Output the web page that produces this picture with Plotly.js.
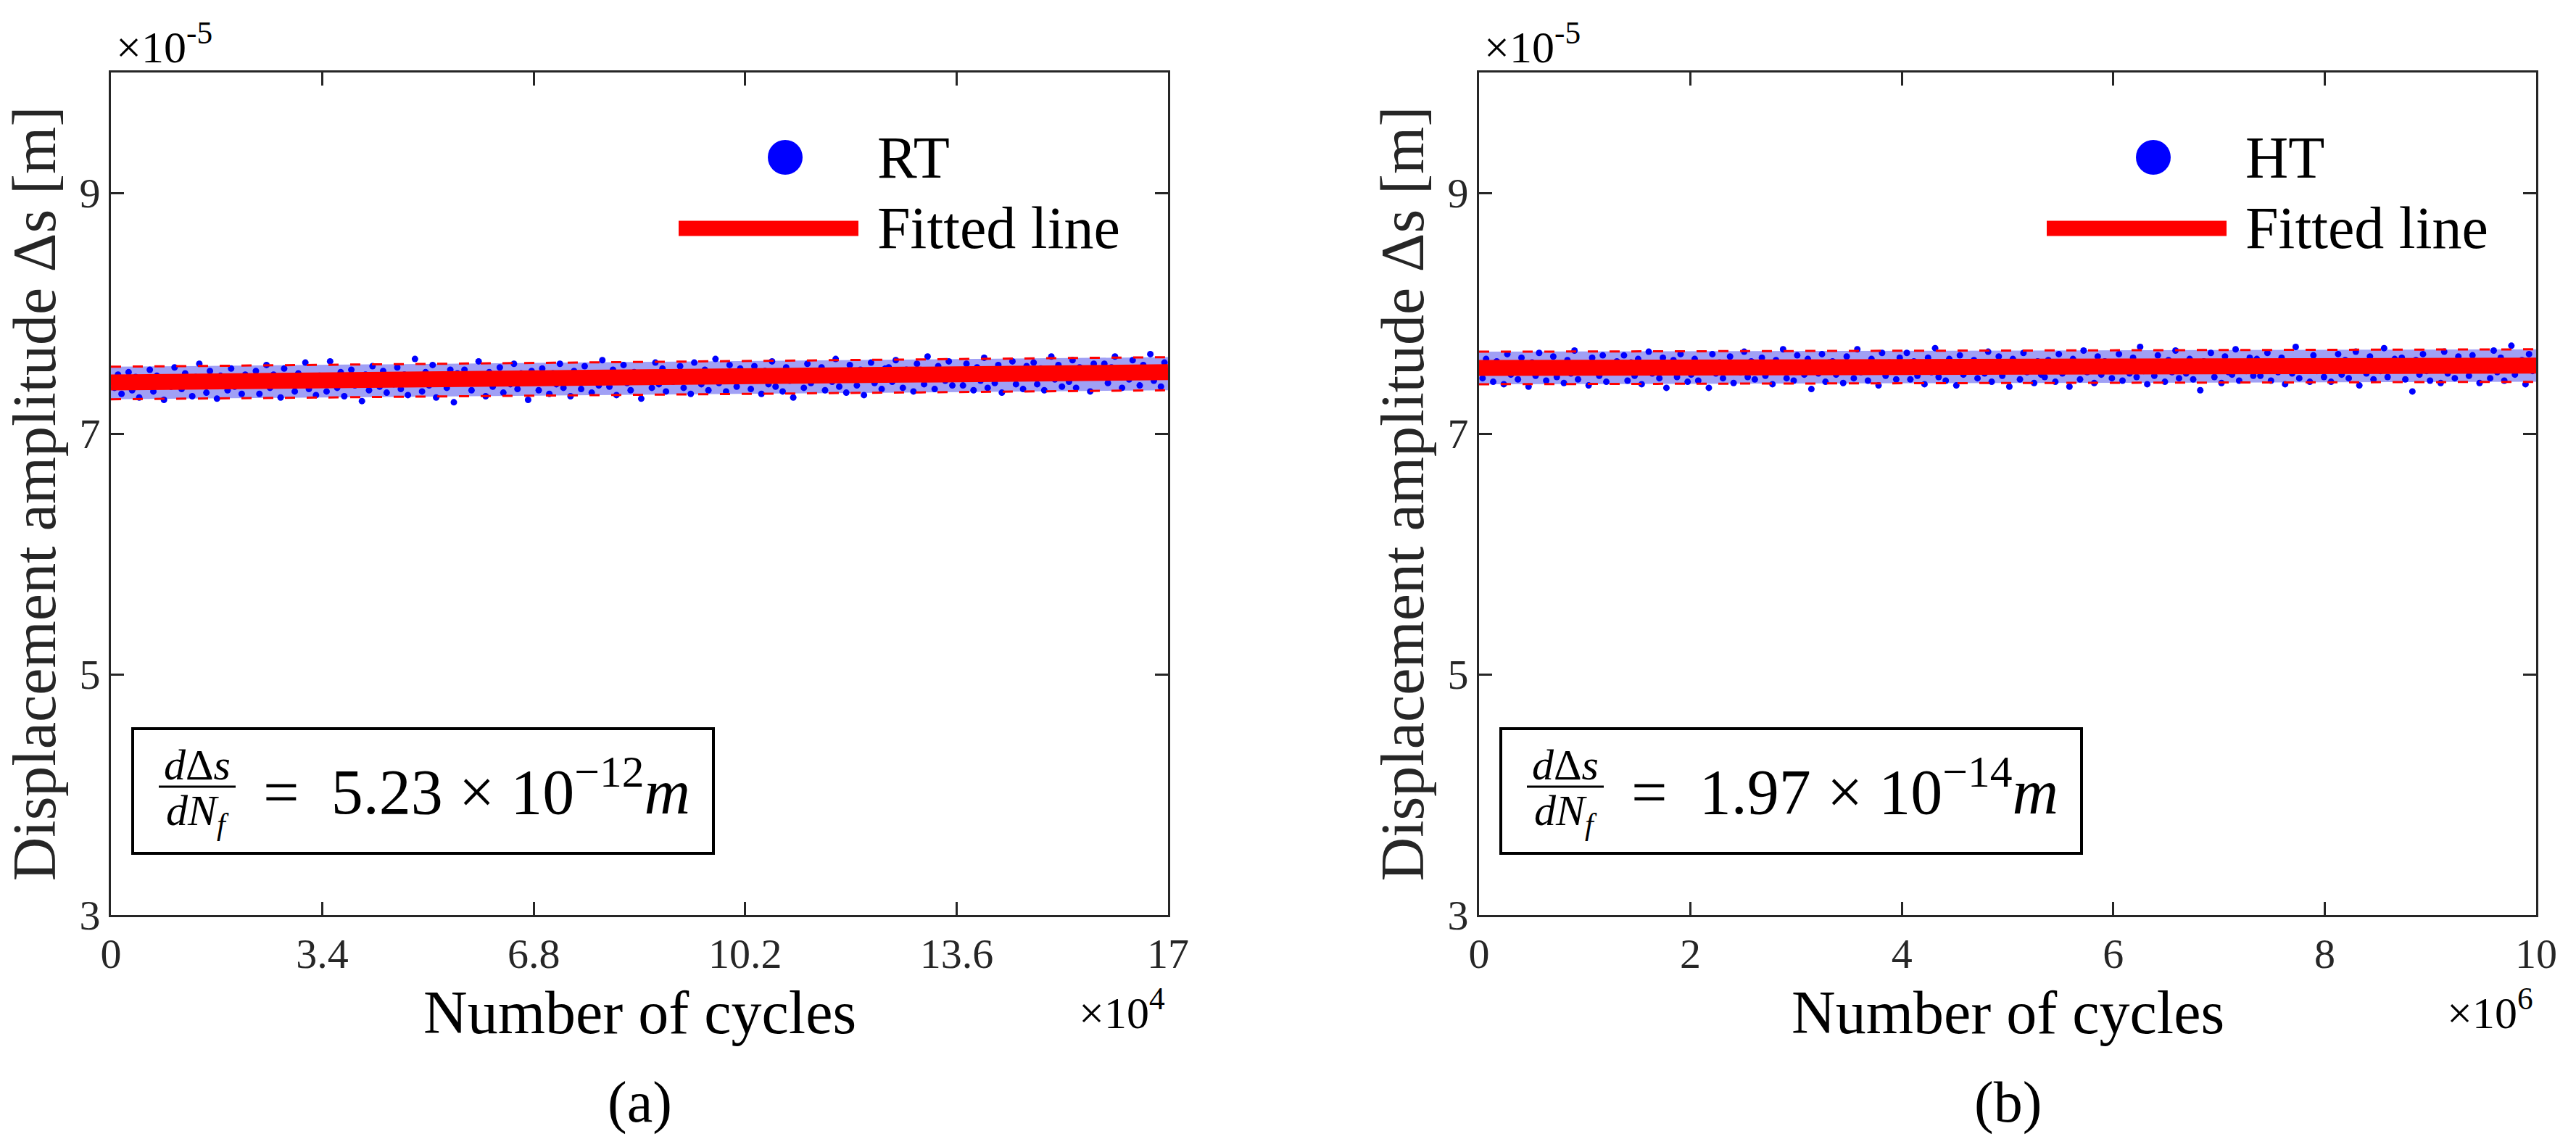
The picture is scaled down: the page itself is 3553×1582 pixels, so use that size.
<!DOCTYPE html>
<html>
<head>
<meta charset="utf-8">
<script src="https://cdn.plot.ly/plotly-3.0.1.min.js"></script>
<style>
body { margin: 0; background: #fff; }
#chart { width: 3553px; height: 1582px; }
</style>
</head>
<body>
<div id="chart"></div>
<script>
var W = 3553, H = 1582;
var serif = "'Liberation Serif', 'Times New Roman', serif";

// (a) RT: cycles 0 .. 1.7e5, amplitude read in units of 1e-5 m
var rtMaxCycles = 170000;
var rtAmp = [
  7.45, 7.38, 7.49, 7.33, 7.42, 7.51, 7.36, 7.47, 7.30, 7.44, 7.40, 7.53, 7.35, 7.48, 7.41, 7.28, 7.46, 7.39, 7.55, 7.43,
  7.37, 7.50, 7.44, 7.31, 7.47, 7.58, 7.40, 7.34, 7.52, 7.45, 7.29, 7.48, 7.42, 7.36, 7.54, 7.39, 7.46, 7.33, 7.49, 7.41,
  7.40, 7.52, 7.33, 7.46, 7.57, 7.38, 7.49, 7.43, 7.30, 7.54, 7.41, 7.47, 7.35, 7.50, 7.44, 7.59, 7.37, 7.45, 7.32, 7.48,
  7.47, 7.35, 7.60, 7.42, 7.38, 7.51, 7.31, 7.46, 7.53, 7.40, 7.44, 7.27, 7.49, 7.36, 7.56, 7.43, 7.39, 7.52, 7.34, 7.48,
  7.41, 7.55, 7.37, 7.49, 7.32, 7.46, 7.62, 7.43, 7.35, 7.51, 7.40, 7.57, 7.30, 7.47, 7.44, 7.38, 7.53, 7.26, 7.50, 7.42,
  7.53, 7.42, 7.36, 7.49, 7.60, 7.44, 7.31, 7.51, 7.39, 7.47, 7.55, 7.34, 7.46, 7.41, 7.58, 7.37, 7.50, 7.43, 7.28, 7.52,
  7.48, 7.36, 7.54, 7.44, 7.33, 7.50, 7.41, 7.58, 7.38, 7.46, 7.31, 7.52, 7.43, 7.37, 7.56, 7.47, 7.34, 7.49, 7.40, 7.61,
  7.45, 7.39, 7.53, 7.32, 7.48, 7.57, 7.42, 7.36, 7.51, 7.44, 7.29, 7.50, 7.46, 7.38, 7.59, 7.41, 7.54, 7.35, 7.47, 7.43,
  7.44, 7.56, 7.38, 7.50, 7.33, 7.59, 7.46, 7.41, 7.53, 7.36, 7.48, 7.62, 7.42, 7.51, 7.35, 7.57, 7.45, 7.39, 7.54, 7.47,
  7.50, 7.37, 7.56, 7.45, 7.33, 7.52, 7.41, 7.60, 7.39, 7.48, 7.35, 7.55, 7.44, 7.30, 7.51, 7.47, 7.38, 7.58, 7.42, 7.49,
  7.46, 7.55, 7.36, 7.51, 7.43, 7.62, 7.39, 7.48, 7.34, 7.57, 7.45, 7.40, 7.53, 7.32, 7.50, 7.59, 7.42, 7.47, 7.37, 7.54,
  7.55, 7.43, 7.61, 7.48, 7.38, 7.53, 7.46, 7.35, 7.58, 7.50, 7.41, 7.64, 7.47, 7.37, 7.56, 7.52, 7.44, 7.60, 7.40, 7.51,
  7.52, 7.40, 7.58, 7.47, 7.36, 7.55, 7.44, 7.63, 7.38, 7.50, 7.42, 7.57, 7.34, 7.53, 7.46, 7.60, 7.41, 7.49, 7.37, 7.56,
  7.48, 7.59, 7.41, 7.54, 7.36, 7.51, 7.64, 7.45, 7.57, 7.39, 7.50, 7.43, 7.61, 7.38, 7.55, 7.47, 7.52, 7.35, 7.58, 7.49,
  7.47, 7.58, 7.42, 7.55, 7.64, 7.49, 7.38, 7.53, 7.45, 7.61, 7.51, 7.40, 7.57, 7.48, 7.66, 7.44, 7.54, 7.39, 7.59, 7.52
];
var rtFit = [7.425, 7.51];
var rtBandUpper = [7.555, 7.635];
var rtBandLower = [7.285, 7.36];
var rtTicks = [0, 34000, 68000, 102000, 136000, 170000];
var rtTickText = ["0", "3.4", "6.8", "10.2", "13.6", "17"];

// (b) HT: cycles 0 .. 1e7
var htMaxCycles = 10000000;
var htAmp = [
  7.58, 7.46, 7.62, 7.51, 7.43, 7.60, 7.54, 7.41, 7.66, 7.49, 7.57, 7.45, 7.63, 7.52, 7.39, 7.59, 7.48, 7.67, 7.53, 7.44,
  7.56, 7.64, 7.47, 7.55, 7.42, 7.61, 7.50, 7.69, 7.45, 7.58, 7.52, 7.40, 7.63, 7.54, 7.48, 7.65, 7.43, 7.57, 7.51, 7.60,
  7.53, 7.65, 7.44, 7.59, 7.48, 7.62, 7.41, 7.56, 7.68, 7.50, 7.58, 7.46, 7.63, 7.38, 7.55, 7.61, 7.47, 7.66, 7.52, 7.43,
  7.49, 7.62, 7.44, 7.58, 7.53, 7.38, 7.66, 7.50, 7.59, 7.46, 7.55, 7.64, 7.42, 7.57, 7.51, 7.68, 7.47, 7.60, 7.45, 7.54,
  7.63, 7.48, 7.56, 7.41, 7.61, 7.52, 7.70, 7.46, 7.58, 7.44, 7.65, 7.53, 7.49, 7.62, 7.37, 7.57, 7.50, 7.66, 7.43, 7.59,
  7.60, 7.49, 7.57, 7.42, 7.64, 7.53, 7.46, 7.70, 7.51, 7.58, 7.44, 7.62, 7.55, 7.40, 7.67, 7.48, 7.59, 7.52, 7.45, 7.63,
  7.52, 7.67, 7.45, 7.60, 7.48, 7.55, 7.41, 7.63, 7.51, 7.71, 7.47, 7.58, 7.44, 7.62, 7.54, 7.40, 7.65, 7.49, 7.57, 7.53,
  7.61, 7.46, 7.59, 7.50, 7.68, 7.43, 7.56, 7.64, 7.48, 7.53, 7.39, 7.62, 7.55, 7.45, 7.67, 7.51, 7.58, 7.42, 7.60, 7.49,
  7.47, 7.61, 7.54, 7.43, 7.66, 7.50, 7.58, 7.39, 7.62, 7.56, 7.45, 7.69, 7.51, 7.57, 7.42, 7.64, 7.49, 7.60, 7.53, 7.46,
  7.54, 7.66, 7.44, 7.57, 7.50, 7.63, 7.47, 7.72, 7.52, 7.41, 7.59, 7.48, 7.65, 7.55, 7.43, 7.61, 7.51, 7.69, 7.46, 7.58,
  7.50, 7.62, 7.45, 7.56, 7.36, 7.60, 7.53, 7.67, 7.47, 7.58, 7.42, 7.64, 7.51, 7.49, 7.70, 7.44, 7.57, 7.52, 7.63, 7.48,
  7.62, 7.48, 7.55, 7.67, 7.44, 7.59, 7.51, 7.63, 7.41, 7.57, 7.50, 7.72, 7.46, 7.60, 7.54, 7.43, 7.65, 7.52, 7.58, 7.47,
  7.59, 7.43, 7.55, 7.66, 7.49, 7.61, 7.46, 7.53, 7.68, 7.40, 7.57, 7.50, 7.64, 7.45, 7.60, 7.52, 7.71, 7.47, 7.56, 7.62,
  7.55, 7.63, 7.45, 7.58, 7.35, 7.61, 7.49, 7.66, 7.52, 7.44, 7.60, 7.56, 7.42, 7.68, 7.50, 7.57, 7.46, 7.64, 7.53, 7.59,
  7.48, 7.65, 7.53, 7.42, 7.60, 7.57, 7.46, 7.69, 7.51, 7.63, 7.44, 7.58, 7.73, 7.49, 7.55, 7.61, 7.41, 7.66, 7.52, 7.59
];
var htFit = [7.545, 7.565];
var htBandUpper = [7.68, 7.70];
var htBandLower = [7.41, 7.43];
var htTicks = [0, 2000000, 4000000, 6000000, 8000000, 10000000];
var htTickText = ["0", "2", "4", "6", "8", "10"];

var yTicks = [3, 5, 7, 9];
var yTickText = ["3", "5", "7", "9"];
var seriesNames = ["RT", "HT"];
var slopeText = ["5.23", "1.97"];
var slopeExp = ["12", "14"];
var xExp = ["4", "6"];
var panelTags = ["(a)", "(b)"];

function getCycles(max, n){
    var c = [];
    for (let i = 0; i < n; i++){
        c.push(i * max / (n - 1));
    }
    return c;
}

function px(x){ return x / W; }
function py(y){ return 1 - y / H; }

function note(text, x, y, size, anchor){
    return {
        xref: "paper", yref: "paper", x: px(x), y: py(y),
        text: text, showarrow: false, xanchor: anchor, yanchor: "middle",
        font: {family: serif, size: size, color: "#000"}
    };
}

function panelTraces(cycles, amp, fit, upper, lower, xa, ya){
    var ends = [0, cycles[cycles.length - 1]];
    var base = {xaxis: xa, yaxis: ya, hoverinfo: "skip", showlegend: false};
    var t = [];
    t.push(Object.assign({x: ends, y: lower, mode: "lines", line: {width: 0}}, base));
    t.push(Object.assign({x: ends, y: upper, mode: "lines", line: {width: 0},
        fill: "tonexty", fillcolor: "rgb(160,160,245)"}, base));
    t.push(Object.assign({x: cycles, y: amp, mode: "markers",
        marker: {color: "#0000ff", size: 9}}, base));
    t.push(Object.assign({x: ends, y: lower, mode: "lines",
        line: {color: "#ff0000", width: 3, dash: "14px,16px"}}, base));
    t.push(Object.assign({x: ends, y: upper, mode: "lines",
        line: {color: "#ff0000", width: 3, dash: "14px,16px"}}, base));
    t.push(Object.assign({x: ends, y: fit, mode: "lines",
        line: {color: "#ff0000", width: 22}}, base));
    return t;
}

function axisStyle(){
    return {
        showline: true, linecolor: "#262626", linewidth: 3, mirror: "ticks",
        ticks: "inside", ticklen: 18, tickwidth: 3, tickcolor: "#262626",
        showgrid: false, zeroline: false,
        tickfont: {family: serif, size: 58, color: "#262626"}
    };
}

var data = panelTraces(getCycles(rtMaxCycles, rtAmp.length), rtAmp, rtFit, rtBandUpper, rtBandLower, "x", "y")
    .concat(panelTraces(getCycles(htMaxCycles, htAmp.length), htAmp, htFit, htBandUpper, htBandLower, "x2", "y2"));

var plotLeft = [153, 2040];
var plotWidth = 1458;
var plotTop = 100, plotBottom = 1262;

var layout = {
    width: W, height: H,
    margin: {l: 0, r: 0, t: 0, b: 0},
    paper_bgcolor: "#fff", plot_bgcolor: "#fff",
    font: {family: serif},
    showlegend: false,
    annotations: [],
    shapes: []
};

var xRanges = [[0, rtMaxCycles], [0, htMaxCycles]];
var xTickVals = [rtTicks, htTicks];
var xTickTexts = [rtTickText, htTickText];

for (let p = 0; p < 2; p++){
    var sfx = p == 0 ? "" : "2";
    var L = plotLeft[p];
    var R = L + plotWidth;

    var xa = axisStyle();
    xa.domain = [px(L), px(R)];
    xa.range = xRanges[p];
    xa.tickvals = xTickVals[p];
    xa.ticktext = xTickTexts[p];
    xa.anchor = "y" + sfx;
    layout["xaxis" + sfx] = xa;

    var ya = axisStyle();
    ya.domain = [py(plotBottom), py(plotTop)];
    ya.range = [3, 10];
    ya.tickvals = yTicks;
    ya.ticktext = yTickText;
    ya.anchor = "x" + sfx;
    ya.title = {text: "Displacement amplitude \u0394s [m]", font: {family: serif, size: 84, color: "#262626"}, standoff: 6};
    layout["yaxis" + sfx] = ya;

    // x title placed by hand so it sits close under the tick labels, as in the figure
    layout.annotations.push(note("Number of cycles", (L + R) / 2, 1396, 84, "center"));

    // exponent labels
    layout.annotations.push(note("\u00d710<sup>-5</sup>", L + 5, 60, 62, "left"));
    layout.annotations.push(note("\u00d710<sup>" + xExp[p] + "</sup>", R - 2, 1392, 62, "right"));
    layout.annotations.push(note(panelTags[p], (L + R) / 2, 1520, 80, "center"));

    // legend
    var lx = L + 883;
    layout.shapes.push({type: "circle", xref: "paper", yref: "paper",
        x0: px(lx + 23), x1: px(lx + 71), y0: py(241), y1: py(193),
        fillcolor: "#0000ff", line: {width: 0}});
    layout.shapes.push({type: "line", xref: "paper", yref: "paper",
        x0: px(lx - 100), x1: px(lx + 148), y0: py(315), y1: py(315),
        line: {color: "#ff0000", width: 21}});
    layout.annotations.push(note(seriesNames[p], lx + 172, 218, 82, "left"));
    layout.annotations.push(note("Fitted line", lx + 172, 314, 82, "left"));

    // slope box
    var bx = L + 30;
    layout.shapes.push({type: "rect", xref: "paper", yref: "paper",
        x0: px(bx), x1: px(bx + 801), y0: py(1177), y1: py(1005),
        fillcolor: "rgba(0,0,0,0)", line: {color: "#000", width: 4}});
    layout.shapes.push({type: "line", xref: "paper", yref: "paper",
        x0: px(bx + 36), x1: px(bx + 142), y0: py(1085), y1: py(1085),
        line: {color: "#000", width: 3}});
    layout.annotations.push(note("<i>d</i>\u0394<i>s</i>", bx + 89, 1055, 60, "center"));
    layout.annotations.push(note("<i>dN</i><sub><i>f</i></sub>", bx + 89, 1122, 60, "center"));
    layout.annotations.push(note("=  " + slopeText[p] + " \u00d7 10<sup>\u2212" + slopeExp[p] + "</sup><i>m</i>", bx + 178, 1085, 88, "left"));
}

Plotly.newPlot("chart", data, layout, {staticPlot: true});
</script>
</body>
</html>
